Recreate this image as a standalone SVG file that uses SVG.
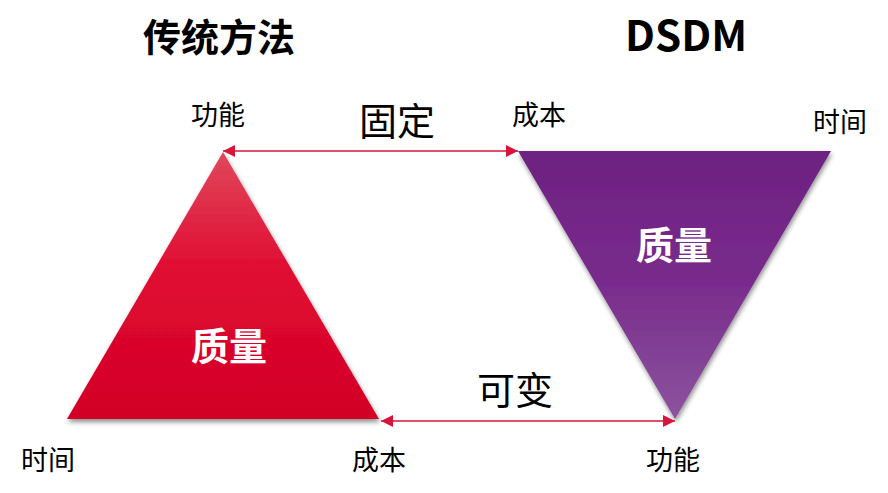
<svg xmlns="http://www.w3.org/2000/svg" width="888" height="493" viewBox="0 0 888 493">
<style>
text{font-family:"Noto Sans CJK SC","Liberation Sans",sans-serif;text-anchor:middle;fill:#000}
.title{font-size:38px;font-weight:bold}
.corner{font-size:27px}
.mid{font-size:38px}
.q{font-size:38px;font-weight:bold;fill:#fff}
.arrow{stroke:#D7153A;stroke-width:1.6;fill:none;marker-start:url(#ah);marker-end:url(#ah)}
</style>
<defs>
<linearGradient id="red" x1="0" y1="0" x2="0" y2="1">
<stop offset="0" stop-color="#E0485C"/>
<stop offset="0.45" stop-color="#E00B32"/>
<stop offset="1" stop-color="#D20026"/>
</linearGradient>
<linearGradient id="purple" x1="0" y1="0" x2="0" y2="1">
<stop offset="0" stop-color="#6D2181"/>
<stop offset="0.5" stop-color="#792C8C"/>
<stop offset="1" stop-color="#8C549E"/>
</linearGradient>
<filter id="sh" x="-10%" y="-10%" width="120%" height="120%">
<feGaussianBlur in="SourceAlpha" stdDeviation="2.5"/>
<feOffset dx="1" dy="3" result="b"/>
<feComponentTransfer><feFuncA type="linear" slope="0.45"/></feComponentTransfer>
<feMerge><feMergeNode/><feMergeNode in="SourceGraphic"/></feMerge>
</filter>
<marker id="ah" viewBox="0 0 10 10" refX="10" refY="5" markerWidth="12" markerHeight="12" markerUnits="userSpaceOnUse" orient="auto-start-reverse">
<path d="M0,0 L10,5 L0,10 z" fill="#D7153A"/>
</marker>
</defs>

<text class="title" x="219" y="51">传统方法</text>
<text class="title" x="686" y="51" style="font-size:42px">DSDM</text>

<g id="traditional">
<polygon points="223,152 379,419 67,419" fill="url(#red)" filter="url(#sh)"/>
<text class="q" x="229" y="360">质量</text>
</g>

<g id="dsdm">
<polygon points="518,151 831,151 675,419" fill="url(#purple)" filter="url(#sh)"/>
<text class="q" x="674" y="259">质量</text>
</g>

<g id="labels">
<text class="corner" x="218" y="125">功能</text>
<text class="corner" x="539" y="125">成本</text>
<text class="corner" x="840" y="132">时间</text>
<text class="corner" x="48" y="470">时间</text>
<text class="corner" x="379" y="470">成本</text>
<text class="corner" x="673" y="470">功能</text>
<text class="mid" x="397" y="135">固定</text>
<text class="mid" x="515" y="404">可变</text>
</g>

<g id="connectors">
<line class="arrow" x1="223" y1="151" x2="518" y2="151"/>
<line class="arrow" x1="381" y1="421" x2="675" y2="421"/>
</g>
</svg>
